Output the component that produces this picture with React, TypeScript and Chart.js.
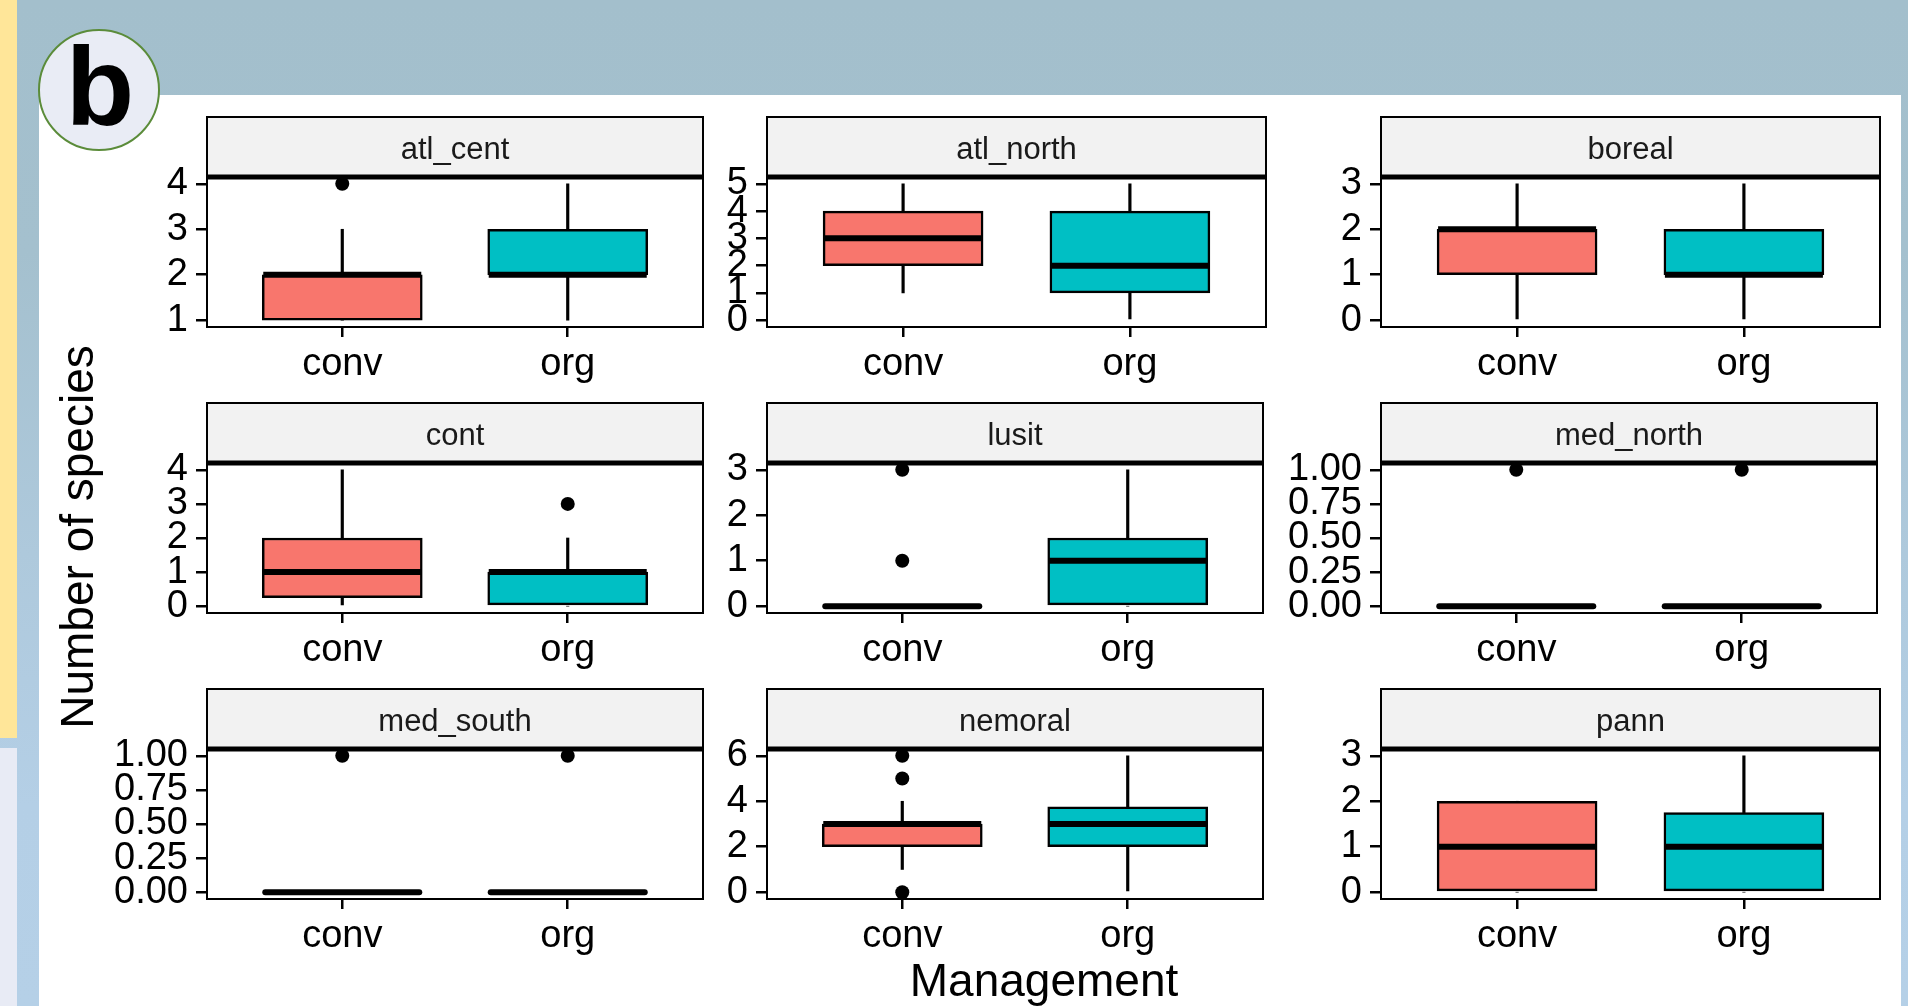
import React, { useEffect, useRef } from 'react';
import { Chart, registerables } from 'chart.js';

Chart.register(...registerables);

// ---------- data ----------
const regions = ['atl_cent', 'atl_north', 'boreal', 'cont', 'lusit', 'med_north', 'med_south', 'nemoral', 'pann'];
const groups = ['conv', 'org'];
const groupColors = ['#F8766D', '#00BFC4'];

// per region: [conv, org]
const q1 = [[1, 2], [2, 1], [1, 1], [0.25, 0], [0, 0], [0, 0], [0, 0], [2, 2], [0, 0]];
const median = [[2, 2], [3, 2], [2, 1], [1, 1], [0, 1], [0, 0], [0, 0], [3, 3], [1, 1]];
const q3 = [[2, 3], [4, 4], [2, 2], [2, 1], [0, 1.5], [0, 0], [0, 0], [3, 3.75], [2, 1.75]];
const whiskerLow = [[1, 1], [1, 0], [0, 0], [0, 0], [0, 0], [0, 0], [0, 0], [1, 0], [0, 0]];
const whiskerHigh = [[3, 4], [5, 5], [3, 3], [4, 2], [0, 3], [0, 0], [0, 0], [4, 6], [2, 3]];
const outliers = [
  [[4], []],
  [[], []],
  [[], []],
  [[], [3]],
  [[1, 3], []],
  [[1], [1]],
  [[1], [1]],
  [[0, 5, 6], []],
  [[], []],
];
const yTickLabels = [
  ['1', '2', '3', '4'],
  ['0', '1', '2', '3', '4', '5'],
  ['0', '1', '2', '3'],
  ['0', '1', '2', '3', '4'],
  ['0', '1', '2', '3'],
  ['0.00', '0.25', '0.50', '0.75', '1.00'],
  ['0.00', '0.25', '0.50', '0.75', '1.00'],
  ['0', '2', '4', '6'],
  ['0', '1', '2', '3'],
];

// ---------- layout ----------
const FONT = "'Liberation Sans', Arial, Helvetica, sans-serif";
const PW = 499;
const PH = 150;
const STRIP = 60;
const AXW = 110;
const XAH = 70;
const TOPPAD = 3;
const BOXW = 160;
const colLeft = [207, 767, 1381];
const rowTop = [176, 462, 748];

function Panel({ idx }: { idx: number }) {
  const ref = useRef<HTMLCanvasElement | null>(null);
  const col = idx % 3;
  const row = Math.floor(idx / 3);
  const cw = AXW + PW + 4;
  const ch = TOPPAD + STRIP + PH + XAH;

  useEffect(() => {
    const r = idx;
    const all = [...whiskerLow[r], ...whiskerHigh[r], ...outliers[r].flat()];
    const lo = Math.min(...all);
    const hi = Math.max(...all);
    const ex = (hi - lo) * 0.05;
    const tickVals = yTickLabels[r].map(Number);

    const panelPlugin = {
      id: 'panelDeco' + r,
      afterDatasetsDraw(chart: any) {
        const { ctx, scales } = chart;
        ctx.save();
        for (let i = 0; i < groups.length; i++) {
          const x = scales.x.getPixelForValue(i + 1);
          const y = scales.y.getPixelForValue(median[r][i]);
          const collapsed = q1[r][i] === q3[r][i];
          ctx.beginPath();
          ctx.lineWidth = 6;
          ctx.strokeStyle = '#000';
          ctx.lineCap = collapsed ? 'round' : 'butt';
          const half = collapsed ? BOXW / 2 - 3 : BOXW / 2 - 1;
          ctx.moveTo(x - half, y);
          ctx.lineTo(x + half, y);
          ctx.stroke();
        }
        ctx.restore();
      },
      afterDraw(chart: any) {
        const { ctx, chartArea } = chart;
        const { left, top, right, bottom } = chartArea;
        ctx.save();
        ctx.strokeStyle = '#000';
        ctx.lineWidth = 2;
        ctx.strokeRect(left, top, right - left, bottom - top);
        ctx.fillStyle = '#F2F2F2';
        ctx.fillRect(left, top - STRIP, right - left, STRIP);
        ctx.strokeRect(left, top - STRIP, right - left, STRIP);
        ctx.beginPath();
        ctx.lineWidth = 5;
        ctx.moveTo(left - 1, top);
        ctx.lineTo(right + 1, top);
        ctx.stroke();
        ctx.fillStyle = '#1A1A1A';
        ctx.font = `31px ${FONT}`;
        ctx.textAlign = 'center';
        ctx.textBaseline = 'middle';
        ctx.fillText(regions[r], (left + right) / 2, top - STRIP / 2 + 3);
        ctx.restore();
      },
    };

    const chart = new Chart(ref.current as HTMLCanvasElement, {
      type: 'bar',
      data: {
        datasets: [
          {
            type: 'scatter',
            data: outliers[r].flatMap((arr, i) => arr.map((v) => ({ x: i + 1, y: v }))),
            pointRadius: 7,
            pointBackgroundColor: '#000',
            pointBorderWidth: 0,
            clip: false,
          } as any,
          {
            type: 'bar',
            data: groups.map((g, i) => ({ x: i + 1, y: [q1[r][i], q3[r][i]] })),
            backgroundColor: groupColors,
            borderColor: '#000',
            borderWidth: 2.5,
            borderSkipped: false,
            barThickness: BOXW,
            grouped: false,
          } as any,
          {
            type: 'bar',
            data: groups.map((g, i) => ({ x: i + 1, y: [whiskerLow[r][i], q1[r][i]] })),
            backgroundColor: '#000',
            borderWidth: 0,
            barThickness: 2.5,
            grouped: false,
          } as any,
          {
            type: 'bar',
            data: groups.map((g, i) => ({ x: i + 1, y: [q3[r][i], whiskerHigh[r][i]] })),
            backgroundColor: '#000',
            borderWidth: 0,
            barThickness: 2.5,
            grouped: false,
          } as any,
        ],
      },
      options: {
        animation: false,
        responsive: false,
        devicePixelRatio: 1,
        events: [],
        layout: { padding: { top: TOPPAD + STRIP, right: 4, left: 0, bottom: 0 } },
        plugins: { legend: { display: false }, tooltip: { enabled: false }, title: { display: false } },
        scales: {
          x: {
            type: 'linear',
            min: 0.4,
            max: 2.6,
            offset: false,
            afterBuildTicks: (s: any) => {
              s.ticks = groups.map((g, i) => ({ value: i + 1 }));
            },
            afterFit: (s: any) => {
              s.height = XAH;
            },
            ticks: {
              autoSkip: false,
              maxRotation: 0,
              padding: 5,
              color: '#000',
              font: { family: FONT, size: 38 },
              callback: (v: any) => groups[Math.round(Number(v)) - 1] ?? '',
            },
            grid: {
              display: true,
              offset: false,
              drawOnChartArea: false,
              drawTicks: true,
              tickLength: 10,
              color: '#000',
              lineWidth: 2.5,
            },
            border: { display: false },
          },
          y: {
            type: 'linear',
            min: lo - ex,
            max: hi + ex,
            beginAtZero: false,
            afterBuildTicks: (s: any) => {
              s.ticks = tickVals.map((v) => ({ value: v }));
            },
            afterFit: (s: any) => {
              s.width = AXW;
            },
            ticks: {
              autoSkip: false,
              padding: 8,
              color: '#000',
              font: { family: FONT, size: 38 },
              callback: (v: any, i: number) => yTickLabels[r][i],
            },
            grid: {
              display: true,
              drawOnChartArea: false,
              drawTicks: true,
              tickLength: 11,
              color: '#000',
              lineWidth: 2.5,
            },
            border: { display: false },
          },
        } as any,
      },
      plugins: [panelPlugin],
    });
    return () => chart.destroy();
  }, [idx]);

  return (
    <canvas
      ref={ref}
      width={cw}
      height={ch}
      style={{
        position: 'absolute',
        left: colLeft[col] - AXW,
        top: rowTop[row] - STRIP - TOPPAD + 1,
        width: cw,
        height: ch,
      }}
    />
  );
}

export default function App() {
  return (
    <div
      style={{
        position: 'fixed',
        left: 0,
        top: 0,
        width: 1908,
        height: 1006,
        overflow: 'hidden',
        background: 'linear-gradient(to bottom, #a3bfcc 0%, #a4c0ce 25%, #aec9dc 55%, #b4cfe6 80%, #b5d0e7 100%)',
        fontFamily: FONT,
      }}
    >
      <div style={{ position: 'absolute', left: 0, top: 0, width: 17, height: 738, background: '#FFE699' }} />
      <div style={{ position: 'absolute', left: 0, top: 748, width: 17, height: 258, background: '#E8EBF5' }} />
      <div style={{ position: 'absolute', left: 39, top: 95, width: 1862, height: 911, background: '#FFFFFF' }} />
      <div
        style={{
          position: 'absolute',
          left: 38,
          top: 29,
          width: 118,
          height: 118,
          borderRadius: '50%',
          border: '2.5px solid #5B8C3A',
          background: '#E9ECF5',
        }}
      />
      <div
        style={{
          position: 'absolute',
          left: 40,
          top: 32,
          width: 120,
          fontSize: 112,
          lineHeight: '110px',
          fontWeight: 'bold',
          textAlign: 'center',
          color: '#000',
        }}
      >
        b
      </div>
      {regions.map((_, i) => (
        <Panel key={i} idx={i} />
      ))}
      <div
        style={{
          position: 'absolute',
          left: 544,
          width: 1000,
          top: 957,
          fontSize: 46,
          lineHeight: '46px',
          textAlign: 'center',
          color: '#000',
        }}
      >
        Management
      </div>
      <div
        style={{
          position: 'absolute',
          left: 77,
          top: 537,
          width: 500,
          fontSize: 46,
          lineHeight: '46px',
          textAlign: 'center',
          color: '#000',
          transform: 'translate(-50%, -50%) rotate(-90deg)',
          whiteSpace: 'nowrap',
        }}
      >
        Number of species
      </div>
    </div>
  );
}
